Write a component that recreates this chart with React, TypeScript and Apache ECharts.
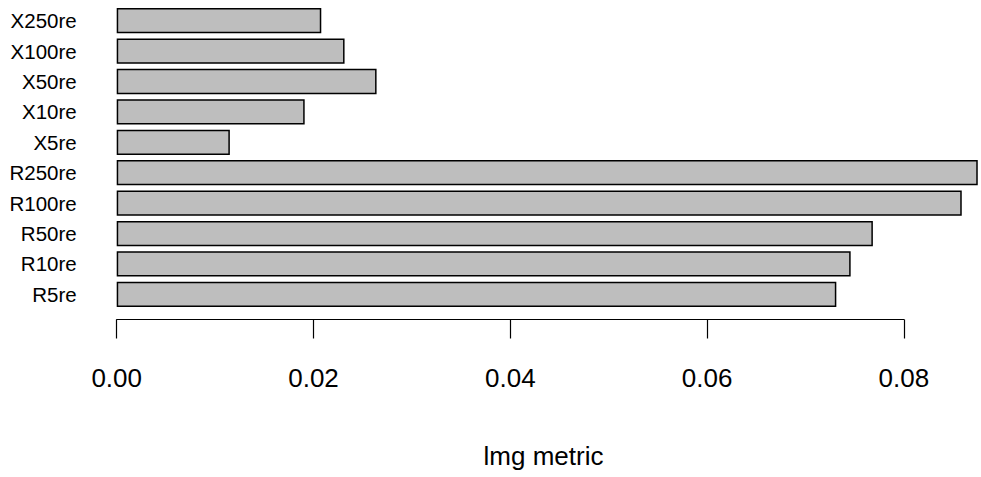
import React, { useEffect, useRef } from "react";
import * as echarts from "echarts";

const categories = ["R5re", "R10re", "R50re", "R100re", "R250re", "X5re", "X10re", "X50re", "X100re", "X250re"];
const values = [0.07327, 0.07473, 0.07699, 0.08604, 0.08767, 0.01152, 0.01914, 0.02646, 0.0232, 0.02083];
const tickMin = 0;
const tickMax = 0.08;
const tickStep = 0.02;
const axisTitle = "lmg metric";

const FONT = "'Liberation Sans Narrow', 'Liberation Sans', Arial, sans-serif";

export default function App() {
  const ref = useRef<HTMLDivElement>(null);
  useEffect(() => {
    if (!ref.current) return;
    const chart = echarts.init(ref.current, null, { renderer: "svg" });
    const pxPerUnit = 9840;
    const left = 116.7;
    chart.setOption({
      animation: false,
      backgroundColor: "#ffffff",
      grid: [
        { left, top: 5.45, height: 304.1, width: 0.088 * pxPerUnit },
        { left, top: 300, height: 19.5, width: (tickMax - tickMin) * pxPerUnit },
      ],
      xAxis: [
        { type: "value", gridIndex: 0, min: 0, max: 0.088, show: false },
        {
          type: "value",
          gridIndex: 1,
          min: tickMin,
          max: tickMax,
          interval: tickStep,
          position: "bottom",
          splitLine: { show: false },
          axisLine: { show: true, lineStyle: { color: "#000", width: 1.2 } },
          axisTick: { show: true, length: 19, lineStyle: { color: "#000", width: 1.2 } },
          axisLabel: {
            margin: 45,
            fontSize: 26,
            fontFamily: FONT,
            color: "#000",
            formatter: (v: number) => v.toFixed(2),
            showMinLabel: true,
            showMaxLabel: true,
          },
        },
      ],
      yAxis: [
        {
          type: "category",
          gridIndex: 0,
          data: categories,
          axisLine: { show: false },
          axisTick: { show: false },
          splitLine: { show: false },
          axisLabel: { margin: 40, fontSize: 20.5, fontFamily: FONT, color: "#000", interval: 0 },
        },
        { type: "value", gridIndex: 1, show: false },
      ],
      graphic: [
        {
          type: "text",
          x: 543.5,
          y: 456,
          style: {
            text: axisTitle,
            fontSize: 26,
            fontFamily: FONT,
            fill: "#000",
            textAlign: "center",
            textVerticalAlign: "middle",
          },
        },
      ],
      series: [
        {
          type: "bar",
          xAxisIndex: 0,
          yAxisIndex: 0,
          data: values,
          barWidth: 25.3,
          clip: false,
          itemStyle: { color: "#bebebe", borderColor: "#000", borderWidth: 1.5 },
        },
      ],
    });
    return () => chart.dispose();
  }, []);
  return <div ref={ref} style={{ position: "fixed", left: 0, top: 0, width: 981, height: 477 }} />;
}
